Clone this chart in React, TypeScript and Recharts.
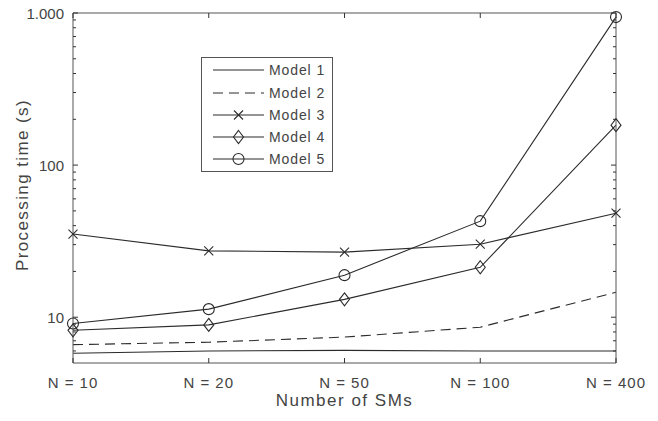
import React from 'react';
import { LineChart, Line, XAxis, YAxis } from 'recharts';

const categories = ['N = 10', 'N = 20', 'N = 50', 'N = 100', 'N = 400'];
const model1 = [5.8, 6.0, 6.05, 6.0, 6.0];
const model2 = [6.6, 6.85, 7.4, 8.6, 14.6];
const model3 = [35.2, 27.3, 26.8, 30.2, 48.3];
const model4 = [8.2, 8.9, 13.1, 21.3, 183];
const model5 = [9.1, 11.3, 18.9, 42.8, 940];
const yMajorTicks = [10, 100, 1000];
const yMinorTicks = [6, 7, 8, 9, 20, 30, 40, 50, 60, 70, 80, 90, 200, 300, 400, 500, 600, 700, 800, 900];
const yTickLabels: Record<number, string> = { 10: '10', 100: '100', 1000: '1.000' };

const series = [
  { key: 'm1', name: 'Model 1', values: model1, dash: undefined as string | undefined, marker: 'none' },
  { key: 'm2', name: 'Model 2', values: model2, dash: '10 6', marker: 'none' },
  { key: 'm3', name: 'Model 3', values: model3, dash: undefined, marker: 'cross' },
  { key: 'm4', name: 'Model 4', values: model4, dash: undefined, marker: 'diamond' },
  { key: 'm5', name: 'Model 5', values: model5, dash: undefined, marker: 'circle' },
];

const data = categories.map((n, i) => {
  const row: Record<string, any> = { n };
  series.forEach((s) => { row[s.key] = s.values[i]; });
  return row;
});

const FONT = '"Liberation Sans", Arial, sans-serif';
const LINE = '#2b2b2b';
const AXIS = '#555';
const TEXT = '#444';
const TICK = '#333';

function Marker({ type, cx, cy }: { type: string; cx: number; cy: number }) {
  if (type === 'cross') {
    const s = 4.5;
    return (
      <g stroke={LINE} strokeWidth={1.1} fill="none">
        <line x1={cx - s} y1={cy - s} x2={cx + s} y2={cy + s} />
        <line x1={cx - s} y1={cy + s} x2={cx + s} y2={cy - s} />
      </g>
    );
  }
  if (type === 'diamond') {
    return (
      <polygon
        points={`${cx},${cy - 6.5} ${cx + 5},${cy} ${cx},${cy + 6.5} ${cx - 5},${cy}`}
        stroke={LINE}
        strokeWidth={1.1}
        fill="none"
      />
    );
  }
  if (type === 'circle') {
    return <circle cx={cx} cy={cy} r={5.5} stroke={LINE} strokeWidth={1.1} fill="none" />;
  }
  return null;
}

const makeDot = (type: string) => (props: any) => {
  const { cx, cy, index } = props;
  if (type === 'none' || cx == null || cy == null) return <g key={`d-${index}`} />;
  return (
    <g key={`d-${index}`}>
      <Marker type={type} cx={cx} cy={cy} />
    </g>
  );
};

const M = 9;

const LeftTick = (props: any) => {
  const { x, y, payload } = props;
  const v = payload.value;
  const major = yMajorTicks.includes(v);
  const ax = x + M;
  return (
    <g>
      <path d={`M${ax},${y}h${major ? 5 : 3}`} stroke={TICK} strokeWidth={1} />
      {major && (
        <text x={x} y={y} textAnchor="end" dominantBaseline="central" fill={TEXT} fontSize={15} fontFamily={FONT}>
          {yTickLabels[v]}
        </text>
      )}
    </g>
  );
};

const RightTick = (props: any) => {
  const { x, y, payload } = props;
  const v = payload.value;
  const major = yMajorTicks.includes(v);
  const ax = x - M;
  return <path d={`M${ax},${y}h${major ? -5 : -3}`} stroke={TICK} strokeWidth={1} />;
};

const XM = 25;
const BottomTick = (props: any) => {
  const { x, y, payload } = props;
  const ay = y - XM;
  return (
    <g>
      <path d={`M${x},${ay}v-5`} stroke={TICK} strokeWidth={1} />
      <text x={x} y={y} textAnchor="middle" fill={TEXT} fontSize={15} letterSpacing={1} fontFamily={FONT}>
        {payload.value}
      </text>
    </g>
  );
};

const TopTick = (props: any) => {
  const { x, y } = props;
  const ay = y + XM;
  return <path d={`M${x},${ay}v5`} stroke={TICK} strokeWidth={1} />;
};

const XLabel = (props: any) => {
  const vb = props.viewBox || {};
  return (
    <text x={vb.x + vb.width / 2} y={vb.y + vb.height + 13} textAnchor="middle" fill={TEXT} fontSize={17} letterSpacing={1.5} fontFamily={FONT}>
      Number of SMs
    </text>
  );
};

const YLabel = (props: any) => {
  const vb = props.viewBox || {};
  const cx = vb.x + 9;
  const cy = vb.y + vb.height / 2 - 3;
  return (
    <text x={cx} y={cy} transform={`rotate(-90 ${cx} ${cy})`} textAnchor="middle" dominantBaseline="central" fill={TEXT} fontSize={17} letterSpacing={1.4} fontFamily={FONT}>
      Processing time (s)
    </text>
  );
};

function LegendBox() {
  const rowY = [13, 36, 58, 80, 102];
  return (
    <svg width={134} height={117} style={{ position: 'absolute', left: 200, top: 56 }}>
      <rect x={1.5} y={1.5} width={131} height={114} fill="#fff" stroke={AXIS} strokeWidth={1} />
      {series.map((s, i) => {
        const y = rowY[i] + 1;
        return (
          <g key={s.key}>
            <line x1={13} y1={y} x2={64} y2={y} stroke={LINE} strokeWidth={1.1} strokeDasharray={s.dash} />
            <Marker type={s.marker} cx={38.5} cy={y} />
            <text x={69} y={y} dominantBaseline="central" fill={TEXT} fontSize={14} letterSpacing={0.9} fontFamily={FONT}>
              {s.name}
            </text>
          </g>
        );
      })}
    </svg>
  );
}

export default function App() {
  return (
    <div style={{ position: 'absolute', left: 0, top: 0, width: 658, height: 421, background: '#fff' }}>
      <LineChart width={658} height={421} data={data} margin={{ top: 8, right: 32, bottom: 28, left: 13 }}>
        <XAxis dataKey="n" xAxisId={0} height={30} axisLine={{ stroke: AXIS }} tickLine={false} tickSize={0} tickMargin={XM} tick={BottomTick} interval={0} label={XLabel} />
        <XAxis dataKey="n" xAxisId="top" orientation="top" height={5} axisLine={{ stroke: AXIS }} tickLine={false} tickSize={0} tickMargin={XM} tick={TopTick} interval={0} />
        <YAxis yAxisId={0} scale="log" domain={[5, 1000]} type="number" ticks={[...yMajorTicks, ...yMinorTicks]} interval={0} width={60} axisLine={{ stroke: AXIS }} tickLine={false} tickSize={0} tickMargin={M} tick={LeftTick} label={YLabel} />
        <YAxis yAxisId="r" orientation="right" scale="log" domain={[5, 1000]} type="number" ticks={[...yMajorTicks, ...yMinorTicks]} interval={0} width={10} axisLine={{ stroke: AXIS }} tickLine={false} tickSize={0} tickMargin={M} tick={RightTick} />
        <Line xAxisId="top" yAxisId="r" dataKey="m1" stroke="none" dot={false} activeDot={false} isAnimationActive={false} legendType="none" />
        {series.map((s) => (
          <Line key={s.key} xAxisId={0} yAxisId={0} dataKey={s.key} name={s.name} type="linear" stroke={LINE} strokeWidth={1.1} strokeDasharray={s.dash} dot={makeDot(s.marker)} activeDot={false} isAnimationActive={false} />
        ))}
      </LineChart>
      <LegendBox />
    </div>
  );
}
